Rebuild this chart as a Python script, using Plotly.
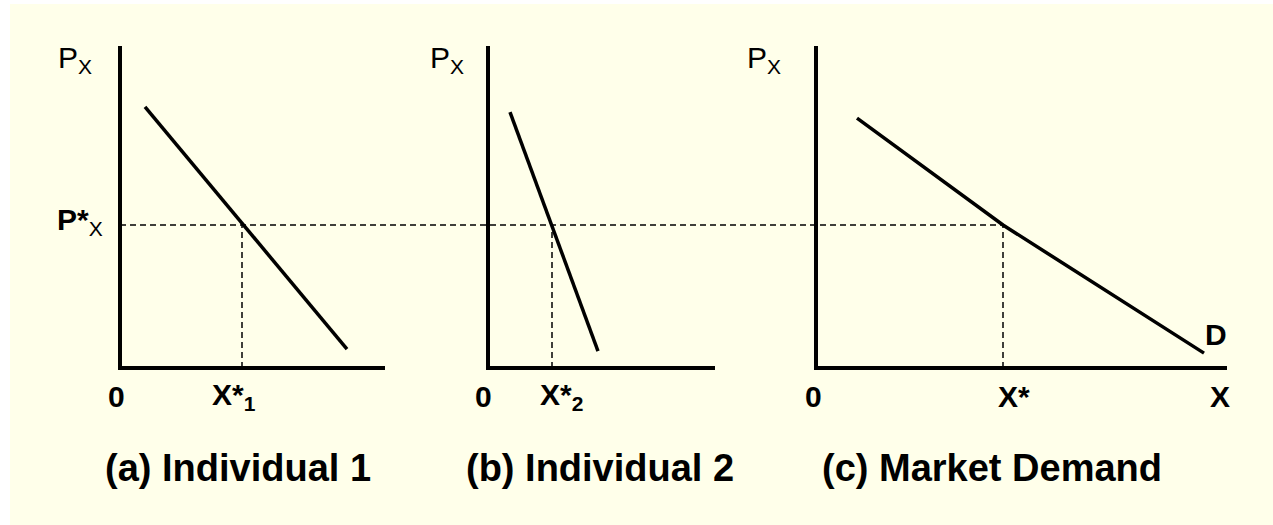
import plotly.graph_objects as go

# ---- values (price in P units, quantity in Q units) ----
P_STAR = 5.0
P_AXIS_TOP = 11.26

IND1_Q = [2.5, 22.7]
IND1_P = [9.13, 0.66]
X1_STAR = 12.2

IND2_Q = [2.2, 11.0]
IND2_P = [8.95, 0.59]
X2_STAR = 6.4

MKT_Q = [4.1, 18.7, 38.8]
MKT_P = [8.74, 5.0, 0.52]
X_STAR = 18.7

Q_AXIS_END = [26.5, 22.7, 41.1]
PANEL_TITLES = ["(a) Individual 1", "(b) Individual 2", "(c) Market Demand"]
STAR_LABELS = ["X*<sub>1</sub>", "X*<sub>2</sub>", "X*"]

# ---- page geometry ----
W, H = 1273, 525
PX_PER_Q = 10.0
PX_PER_P = 28.6
ORIGIN_X = [120, 488, 816]
ORIGIN_Y = 368
PANEL_EDGES = [0, 400, 740, W]

BG = "#FFFFEA"
INK = "black"
FONT = "Liberation Sans, Arial, sans-serif"

fig = go.Figure()

xnames = ["x", "x2", "x3"]
x_ranges = []
for i in range(3):
    lo = (PANEL_EDGES[i] - ORIGIN_X[i]) / PX_PER_Q
    hi = (PANEL_EDGES[i + 1] - ORIGIN_X[i]) / PX_PER_Q
    x_ranges.append((lo, hi))

y_range = [-(H - ORIGIN_Y) / PX_PER_P, ORIGIN_Y / PX_PER_P]


def to_paper(panel, q, p):
    """Convert a panel's (quantity, price) into page fractions."""
    px = ORIGIN_X[panel] + q * PX_PER_Q
    py = ORIGIN_Y - p * PX_PER_P
    return px / W, 1 - py / H


stars = [X1_STAR, X2_STAR, X_STAR]
curves = [(IND1_Q, IND1_P), (IND2_Q, IND2_P), (MKT_Q, MKT_P)]
dash_style = dict(color=INK, width=1.5, dash="6px,4px")

# dashed guide at the common price, running across all three panels
for i in range(3):
    lo, hi = x_ranges[i]
    x0 = 0 if i == 0 else lo
    x1 = X_STAR if i == 2 else hi
    fig.add_trace(go.Scatter(x=[x0, x1], y=[P_STAR, P_STAR], mode="lines",
                             xaxis=xnames[i], yaxis="y", line=dash_style,
                             hoverinfo="skip", showlegend=False))
    # vertical guide down to each quantity
    fig.add_trace(go.Scatter(x=[stars[i], stars[i]], y=[0, P_STAR], mode="lines",
                             xaxis=xnames[i], yaxis="y", line=dash_style,
                             hoverinfo="skip", showlegend=False))

for i in range(3):
    # axes drawn as an L
    fig.add_trace(go.Scatter(x=[0, 0, Q_AXIS_END[i]], y=[P_AXIS_TOP, 0, 0],
                             mode="lines", xaxis=xnames[i], yaxis="y",
                             line=dict(color=INK, width=4),
                             hoverinfo="skip", showlegend=False))
    # demand curve
    q, p = curves[i]
    fig.add_trace(go.Scatter(x=q, y=p, mode="lines", xaxis=xnames[i], yaxis="y",
                             line=dict(color=INK, width=3.5),
                             hoverinfo="skip", showlegend=False))

ann = []


def label(text, panel, q, p, size=30, bold=True, **kw):
    t = f"<b>{text}</b>" if bold else text
    xp, yp = to_paper(panel, q, p)
    d = dict(text=t, x=xp, y=yp, xref="paper", yref="paper", showarrow=False,
             xanchor="center", yanchor="middle",
             font=dict(family=FONT, size=size, color=INK))
    d.update(kw)
    ann.append(d)


# axis labels
p_label_x = [-4.5, -4.1, -5.25]
zero_x = [-0.4, -0.5, -0.3]
star_shift = [-32, -14, -7]
for i in range(3):
    label("P<sub>X</sub>", i, p_label_x[i], 10.77, bold=False)
    label("0", i, zero_x[i], -1.01)
    label(STAR_LABELS[i], i, stars[i], -1.01, xanchor="left",
          xshift=star_shift[i])

label("<b>P*</b><sub>X</sub>", 0, -4.0, P_STAR, bold=False, yshift=4)
label("X", 2, 40.4, -1.01)
label("D", 2, MKT_Q[-1], MKT_P[-1], xanchor="left", yanchor="bottom",
      xshift=-1, yshift=0)

# panel captions
caption_x = [238, 600, 992]
for i in range(3):
    ann.append(dict(text=f"<b>{PANEL_TITLES[i]}</b>", x=caption_x[i] / W,
                    y=1 - 468 / H, xref="paper", yref="paper", showarrow=False,
                    xanchor="center", yanchor="middle",
                    font=dict(family=FONT, size=38, color=INK)))

layout_axes = {}
for i in range(3):
    key = "xaxis" if i == 0 else f"xaxis{i + 1}"
    layout_axes[key] = dict(domain=[PANEL_EDGES[i] / W, PANEL_EDGES[i + 1] / W],
                            range=list(x_ranges[i]), visible=False,
                            anchor="y", fixedrange=True)

fig.update_layout(
    width=W, height=H,
    margin=dict(l=0, r=0, t=0, b=0),
    paper_bgcolor="white",
    plot_bgcolor="rgba(0,0,0,0)",
    yaxis=dict(domain=[0, 1], range=y_range, visible=False, fixedrange=True),
    annotations=ann,
    shapes=[dict(type="rect", xref="paper", yref="paper",
                 x0=10 / W, x1=1, y0=0, y1=1 - 4 / H,
                 fillcolor=BG, line=dict(width=0), layer="below")],
    **layout_axes,
)

fig.write_html("out.html", config={"displayModeBar": False})
